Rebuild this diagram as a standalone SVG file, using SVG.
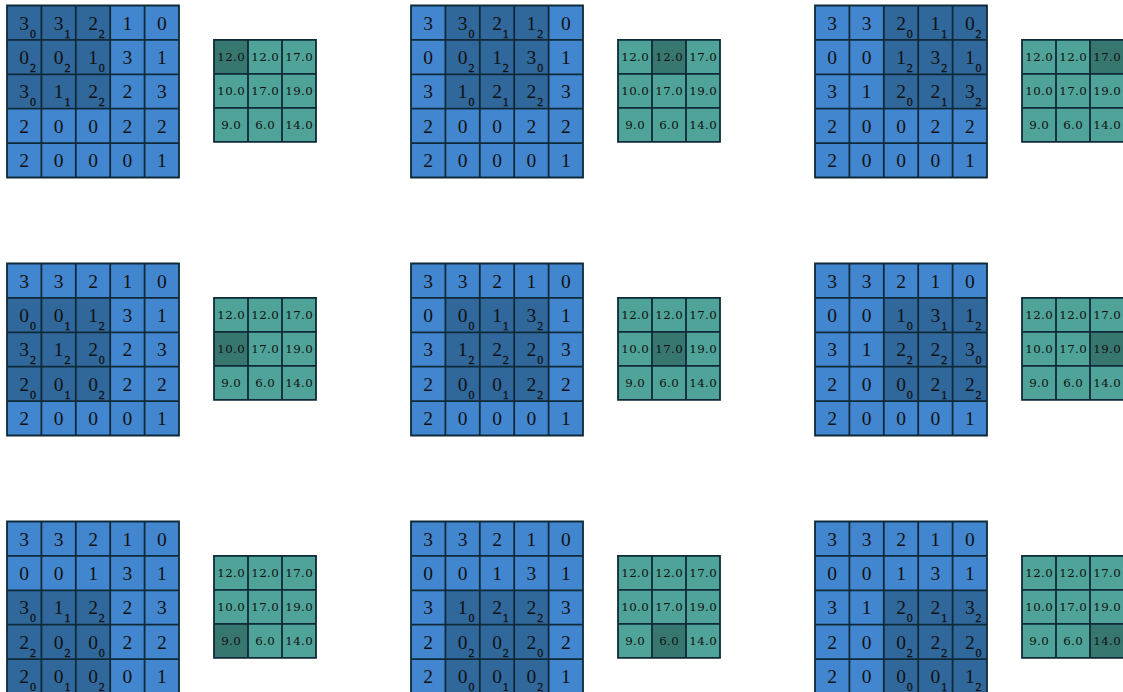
<svg xmlns="http://www.w3.org/2000/svg" xmlns:xlink="http://www.w3.org/1999/xlink" width="1123" height="692" viewBox="0 0 1123 692">
<style>
.in{fill:#4286cf}
.hl{fill:#30689c}
.out{fill:#4fa398}
.ohl{fill:#387770}
.grid{fill:none;stroke:#0e2a38;stroke-width:1.8}
.d{font-family:"Liberation Serif","Times New Roman",serif;font-size:19.5px;fill:#111;text-anchor:middle}
.s{font-family:"Liberation Serif","Times New Roman",serif;font-size:12px;fill:#111;text-anchor:middle;stroke:#111;stroke-width:0.3}
.o{font-family:"DejaVu Serif",serif;font-size:11.8px;letter-spacing:0.4px;fill:#111;text-anchor:middle}
</style>
<defs>
<path id="g5" class="grid" d="M0 0H172V172H0Z M34.4 0V172 M68.8 0V172 M103.2 0V172 M137.6 0V172 M0 34.4H172 M0 68.8H172 M0 103.2H172 M0 137.6H172"/>
<path id="g3" class="grid" d="M0 0H102V102H0Z M34 0V102 M68 0V102 M0 34H102 M0 68H102"/>
<g id="d5" class="d">
<text x="17.2" y="24">3</text><text x="51.6" y="24">3</text><text x="86" y="24">2</text><text x="120.4" y="24">1</text><text x="154.8" y="24">0</text>
<text x="17.2" y="58.4">0</text><text x="51.6" y="58.4">0</text><text x="86" y="58.4">1</text><text x="120.4" y="58.4">3</text><text x="154.8" y="58.4">1</text>
<text x="17.2" y="92.8">3</text><text x="51.6" y="92.8">1</text><text x="86" y="92.8">2</text><text x="120.4" y="92.8">2</text><text x="154.8" y="92.8">3</text>
<text x="17.2" y="127.2">2</text><text x="51.6" y="127.2">0</text><text x="86" y="127.2">0</text><text x="120.4" y="127.2">2</text><text x="154.8" y="127.2">2</text>
<text x="17.2" y="161.6">2</text><text x="51.6" y="161.6">0</text><text x="86" y="161.6">0</text><text x="120.4" y="161.6">0</text><text x="154.8" y="161.6">1</text>
</g>
<g id="t3" class="o">
<text x="17.2" y="21">12.0</text><text x="51.2" y="21">12.0</text><text x="85.2" y="21">17.0</text>
<text x="17.2" y="55">10.0</text><text x="51.2" y="55">17.0</text><text x="85.2" y="55">19.0</text>
<text x="17.2" y="89">9.0</text><text x="51.2" y="89">6.0</text><text x="85.2" y="89">14.0</text>
</g>
</defs>

<g id="connectors"></g>

<!-- Row 0 -->
<g id="step-0-0" transform="translate(7,5.5)">
<g id="input-0-0"><rect class="in" width="172" height="172"/><rect class="hl" x="0" y="0" width="103.2" height="103.2"/><use href="#g5"/><use href="#d5"/>
<g class="s"><text x="26" y="32">0</text><text x="60.4" y="32">1</text><text x="94.8" y="32">2</text><text x="26" y="66.4">2</text><text x="60.4" y="66.4">2</text><text x="94.8" y="66.4">0</text><text x="26" y="100.8">0</text><text x="60.4" y="100.8">1</text><text x="94.8" y="100.8">2</text></g></g>
<g id="output-0-0" transform="translate(207,34.4)"><rect class="out" width="102" height="102"/><rect class="ohl" x="0" y="0" width="34" height="34"/><use href="#g3"/><use href="#t3"/></g>
</g>

<g id="step-0-1" transform="translate(411,5.5)">
<g id="input-0-1"><rect class="in" width="172" height="172"/><rect class="hl" x="34.4" y="0" width="103.2" height="103.2"/><use href="#g5"/><use href="#d5"/>
<g class="s"><text x="60.4" y="32">0</text><text x="94.8" y="32">1</text><text x="129.2" y="32">2</text><text x="60.4" y="66.4">2</text><text x="94.8" y="66.4">2</text><text x="129.2" y="66.4">0</text><text x="60.4" y="100.8">0</text><text x="94.8" y="100.8">1</text><text x="129.2" y="100.8">2</text></g></g>
<g id="output-0-1" transform="translate(207,34.4)"><rect class="out" width="102" height="102"/><rect class="ohl" x="34" y="0" width="34" height="34"/><use href="#g3"/><use href="#t3"/></g>
</g>

<g id="step-0-2" transform="translate(815,5.5)">
<g id="input-0-2"><rect class="in" width="172" height="172"/><rect class="hl" x="68.8" y="0" width="103.2" height="103.2"/><use href="#g5"/><use href="#d5"/>
<g class="s"><text x="94.8" y="32">0</text><text x="129.2" y="32">1</text><text x="163.6" y="32">2</text><text x="94.8" y="66.4">2</text><text x="129.2" y="66.4">2</text><text x="163.6" y="66.4">0</text><text x="94.8" y="100.8">0</text><text x="129.2" y="100.8">1</text><text x="163.6" y="100.8">2</text></g></g>
<g id="output-0-2" transform="translate(207,34.4)"><rect class="out" width="102" height="102"/><rect class="ohl" x="68" y="0" width="34" height="34"/><use href="#g3"/><use href="#t3"/></g>
</g>

<!-- Row 1 -->
<g id="step-1-0" transform="translate(7,263.5)">
<g id="input-1-0"><rect class="in" width="172" height="172"/><rect class="hl" x="0" y="34.4" width="103.2" height="103.2"/><use href="#g5"/><use href="#d5"/>
<g class="s"><text x="26" y="66.4">0</text><text x="60.4" y="66.4">1</text><text x="94.8" y="66.4">2</text><text x="26" y="100.8">2</text><text x="60.4" y="100.8">2</text><text x="94.8" y="100.8">0</text><text x="26" y="135.2">0</text><text x="60.4" y="135.2">1</text><text x="94.8" y="135.2">2</text></g></g>
<g id="output-1-0" transform="translate(207,34.4)"><rect class="out" width="102" height="102"/><rect class="ohl" x="0" y="34" width="34" height="34"/><use href="#g3"/><use href="#t3"/></g>
</g>

<g id="step-1-1" transform="translate(411,263.5)">
<g id="input-1-1"><rect class="in" width="172" height="172"/><rect class="hl" x="34.4" y="34.4" width="103.2" height="103.2"/><use href="#g5"/><use href="#d5"/>
<g class="s"><text x="60.4" y="66.4">0</text><text x="94.8" y="66.4">1</text><text x="129.2" y="66.4">2</text><text x="60.4" y="100.8">2</text><text x="94.8" y="100.8">2</text><text x="129.2" y="100.8">0</text><text x="60.4" y="135.2">0</text><text x="94.8" y="135.2">1</text><text x="129.2" y="135.2">2</text></g></g>
<g id="output-1-1" transform="translate(207,34.4)"><rect class="out" width="102" height="102"/><rect class="ohl" x="34" y="34" width="34" height="34"/><use href="#g3"/><use href="#t3"/></g>
</g>

<g id="step-1-2" transform="translate(815,263.5)">
<g id="input-1-2"><rect class="in" width="172" height="172"/><rect class="hl" x="68.8" y="34.4" width="103.2" height="103.2"/><use href="#g5"/><use href="#d5"/>
<g class="s"><text x="94.8" y="66.4">0</text><text x="129.2" y="66.4">1</text><text x="163.6" y="66.4">2</text><text x="94.8" y="100.8">2</text><text x="129.2" y="100.8">2</text><text x="163.6" y="100.8">0</text><text x="94.8" y="135.2">0</text><text x="129.2" y="135.2">1</text><text x="163.6" y="135.2">2</text></g></g>
<g id="output-1-2" transform="translate(207,34.4)"><rect class="out" width="102" height="102"/><rect class="ohl" x="68" y="34" width="34" height="34"/><use href="#g3"/><use href="#t3"/></g>
</g>

<!-- Row 2 -->
<g id="step-2-0" transform="translate(7,521.5)">
<g id="input-2-0"><rect class="in" width="172" height="172"/><rect class="hl" x="0" y="68.8" width="103.2" height="103.2"/><use href="#g5"/><use href="#d5"/>
<g class="s"><text x="26" y="100.8">0</text><text x="60.4" y="100.8">1</text><text x="94.8" y="100.8">2</text><text x="26" y="135.2">2</text><text x="60.4" y="135.2">2</text><text x="94.8" y="135.2">0</text><text x="26" y="169.6">0</text><text x="60.4" y="169.6">1</text><text x="94.8" y="169.6">2</text></g></g>
<g id="output-2-0" transform="translate(207,34.4)"><rect class="out" width="102" height="102"/><rect class="ohl" x="0" y="68" width="34" height="34"/><use href="#g3"/><use href="#t3"/></g>
</g>

<g id="step-2-1" transform="translate(411,521.5)">
<g id="input-2-1"><rect class="in" width="172" height="172"/><rect class="hl" x="34.4" y="68.8" width="103.2" height="103.2"/><use href="#g5"/><use href="#d5"/>
<g class="s"><text x="60.4" y="100.8">0</text><text x="94.8" y="100.8">1</text><text x="129.2" y="100.8">2</text><text x="60.4" y="135.2">2</text><text x="94.8" y="135.2">2</text><text x="129.2" y="135.2">0</text><text x="60.4" y="169.6">0</text><text x="94.8" y="169.6">1</text><text x="129.2" y="169.6">2</text></g></g>
<g id="output-2-1" transform="translate(207,34.4)"><rect class="out" width="102" height="102"/><rect class="ohl" x="34" y="68" width="34" height="34"/><use href="#g3"/><use href="#t3"/></g>
</g>

<g id="step-2-2" transform="translate(815,521.5)">
<g id="input-2-2"><rect class="in" width="172" height="172"/><rect class="hl" x="68.8" y="68.8" width="103.2" height="103.2"/><use href="#g5"/><use href="#d5"/>
<g class="s"><text x="94.8" y="100.8">0</text><text x="129.2" y="100.8">1</text><text x="163.6" y="100.8">2</text><text x="94.8" y="135.2">2</text><text x="129.2" y="135.2">2</text><text x="163.6" y="135.2">0</text><text x="94.8" y="169.6">0</text><text x="129.2" y="169.6">1</text><text x="163.6" y="169.6">2</text></g></g>
<g id="output-2-2" transform="translate(207,34.4)"><rect class="out" width="102" height="102"/><rect class="ohl" x="68" y="68" width="34" height="34"/><use href="#g3"/><use href="#t3"/></g>
</g>
</svg>
